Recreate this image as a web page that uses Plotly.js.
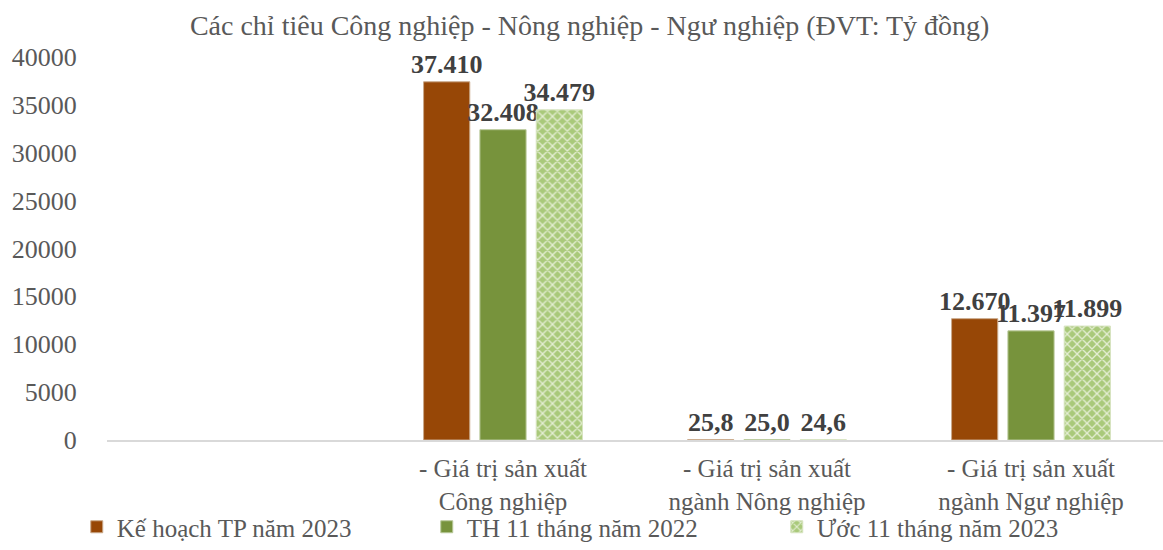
<!DOCTYPE html>
<html>
<head>
<meta charset="utf-8">
<script src="https://cdn.plot.ly/plotly-3.0.1.min.js"></script>
<style>html,body{margin:0;padding:0;background:#fff;}#chart{width:1163px;height:550px;}</style>
</head>
<body>
<div id="chart"></div>
<script>
const categories = [" ", "- Giá trị sản xuất<br>Công nghiệp", "- Giá trị sản xuất<br>ngành Nông nghiệp", "- Giá trị sản xuất<br>ngành Ngư nghiệp"];
const seriesNames = ["Kế hoạch TP năm 2023", "TH 11 tháng năm 2022", "Ước 11 tháng năm 2023"];
const keHoach2023 = [null, 37410, 25.8, 12670];
const th11Thang2022 = [null, 32408, 25.0, 11397];
const uoc11Thang2023 = [null, 34479, 24.6, 11899];
const yTicks = [0, 5000, 10000, 15000, 20000, 25000, 30000, 35000, 40000];

function fmt(v) {
  if (v === null) return "";
  if (v >= 1000) return Math.round(v).toString().replace(/\B(?=(\d{3})+(?!\d))/g, ".");
  return v.toFixed(1).replace(".", ",");
}

const serif = "Liberation Serif, DejaVu Serif, serif";
const labelFont = {family: serif, size: 26, color: "#404040", weight: "bold"};

function mk(name, vals, marker) {
  return {
    type: "bar", name: name, x: categories, y: vals,
    text: vals.map(fmt), textposition: "outside", cliponaxis: false,
    constraintext: "none", textfont: labelFont,
    marker: marker, hoverinfo: "skip"
  };
}

const data = [
  mk(seriesNames[0], keHoach2023, {color: "#974706", line: {color: "#c9a98a", width: 1}}),
  mk(seriesNames[1], th11Thang2022, {color: "#77933c", line: {color: "#b9c99a", width: 1}}),
  mk(seriesNames[2], uoc11Thang2023, {color: "#c3d69b",
     pattern: {shape: "x", fillmode: "replace", bgcolor: "#a9c97a", fgcolor: "#e4eed3", size: 7, solidity: 0.35},
     line: {color: "#d6e3bf", width: 1}})
];

const layout = {
  width: 1163, height: 550,
  paper_bgcolor: "#fff", plot_bgcolor: "#fff",
  margin: {l: 107, r: 0, t: 57, b: 110},
  title: {text: "Các chỉ tiêu Công nghiệp - Nông nghiệp - Ngư nghiệp (ĐVT: Tỷ đồng)",
          font: {family: serif, size: 28, color: "#595959"}, x: 0.507, xanchor: "center", y: 0.955, yanchor: "middle"},
  barmode: "group", bargap: 0.36, bargroupgap: 0.18,
  showlegend: true,
  legend: {orientation: "h", xref: "container", yref: "container", x: 0.066, y: -0.028, xanchor: "left", yanchor: "bottom",
           font: {family: serif, size: 25, color: "#595959"}, entrywidth: 305, entrywidthmode: "pixels",
           itemwidth: 30, traceorder: "normal", bgcolor: "rgba(0,0,0,0)"},
  xaxis: {type: "category", showgrid: false, zeroline: false, showline: true, linecolor: "#d9d9d9", linewidth: 2,
          ticks: "outside", ticklen: 5, tickcolor: "rgba(0,0,0,0)",
          tickfont: {family: serif, size: 25, color: "#595959"}, fixedrange: true},
  yaxis: {range: [0, 40000], tickvals: yTicks, ticktext: yTicks.map(String), showgrid: false, zeroline: false, showline: false,
          ticks: "outside", ticklen: 24, tickcolor: "rgba(0,0,0,0)",
          tickfont: {family: serif, size: 26, color: "#595959"}, fixedrange: true}
};

Plotly.newPlot("chart", data, layout, {displayModeBar: false, staticPlot: true});
</script>
</body>
</html>
